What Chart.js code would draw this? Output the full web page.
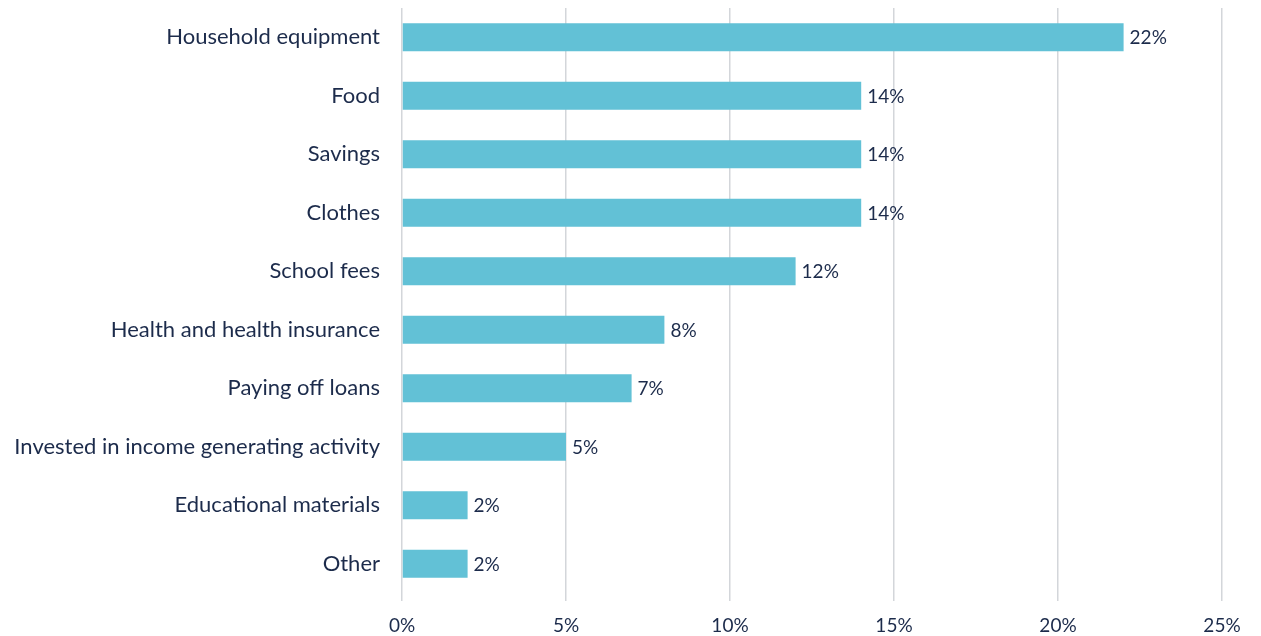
<!DOCTYPE html>
<html>
<head>
<meta charset="utf-8">
<title>Use of income</title>
<script src="https://cdn.jsdelivr.net/npm/chart.js@4/dist/chart.umd.min.js"></script>
<style>
  html, body { margin: 0; padding: 0; background: #ffffff; }
  #wrap { width: 1261px; height: 636px; position: relative; }
</style>
</head>
<body>
<div id="wrap"><canvas id="chart" width="1261" height="636"></canvas></div>
<script>
// Spending categories and share of respondents (%)
const categories = [
  "Household equipment",
  "Food",
  "Savings",
  "Clothes",
  "School fees",
  "Health and health insurance",
  "Paying off loans",
  "Invested in income generating activity",
  "Educational materials",
  "Other"
];
const shares = [22, 14, 14, 14, 12, 8, 7, 5, 2, 2];
const axisTicks = [0, 5, 10, 15, 20, 25];

const textColor = "#1c2b4b";
const barColor = "#62c1d6";
const fontFamily = "Lato, 'Open Sans', sans-serif";

// Writes the percentage just past the end of each bar
const valueLabels = {
  id: "valueLabels",
  afterDatasetsDraw(chart) {
    const ctx = chart.ctx;
    const meta = chart.getDatasetMeta(0);
    const xScale = chart.scales.x;
    ctx.save();
    ctx.font = "19px " + fontFamily;
    ctx.fillStyle = textColor;
    ctx.textAlign = "left";
    ctx.textBaseline = "middle";
    meta.data.forEach((bar, i) => {
      const v = shares[i];
      ctx.fillText(v + "%", xScale.getPixelForValue(v) + 6, bar.y + 1);
    });
    ctx.restore();
  }
};

new Chart(document.getElementById("chart"), {
  type: "bar",
  data: {
    labels: categories,
    datasets: [{
      data: shares,
      backgroundColor: barColor,
      borderWidth: 0,
      categoryPercentage: 1,
      barPercentage: 0.48
    }]
  },
  options: {
    indexAxis: "y",
    responsive: false,
    animation: false,
    layout: { padding: { top: 8, right: 39, left: 0, bottom: 0 } },
    plugins: {
      legend: { display: false },
      tooltip: { enabled: false }
    },
    scales: {
      x: {
        min: 0,
        max: 25,
        afterBuildTicks(scale) {
          scale.ticks = axisTicks.map(v => ({ value: v }));
        },
        afterFit(scale) { scale.height = 43; },
        grid: {
          color: "#d3d6da",
          lineWidth: 1.5,
          drawTicks: true,
          tickLength: 8
        },
        border: { display: false },
        ticks: {
          color: textColor,
          font: { family: fontFamily, size: 19 },
          padding: 13,
          callback: v => v + "%"
        }
      },
      y: {
        afterFit(scale) {
          scale.width = 402;
          scale.paddingTop = 0;
          scale.paddingBottom = 0;
        },
        grid: { display: false, drawTicks: true, tickLength: 19 },
        border: { display: false },
        ticks: {
          color: textColor,
          font: { family: fontFamily, size: 22 },
          padding: 3
        }
      }
    }
  },
  plugins: [valueLabels]
});
</script>
</body>
</html>
